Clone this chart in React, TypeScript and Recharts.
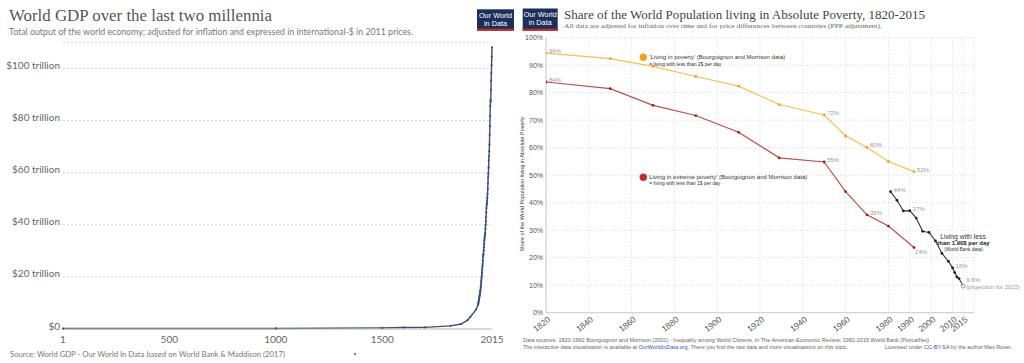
import React from 'react';
import { LineChart, Line, XAxis, YAxis, CartesianGrid, LabelList } from 'recharts';

// World GDP, trillions of international-$ (2011 prices)
const GDP_YEARS = [
  1, 1000, 1500, 1600, 1700, 1820, 1870, 1900, 1913, 1940,
  1950, 1951, 1952, 1953, 1954, 1955, 1956, 1957, 1958, 1959,
  1960, 1961, 1962, 1963, 1964, 1965, 1966, 1967, 1968, 1969,
  1970, 1971, 1972, 1973, 1974, 1975, 1976, 1977, 1978, 1979,
  1980, 1981, 1982, 1983, 1984, 1985, 1986, 1987, 1988, 1989,
  1990, 1991, 1992, 1993, 1994, 1995, 1996, 1997, 1998, 1999,
  2000, 2001, 2002, 2003, 2004, 2005, 2006, 2007, 2008, 2009,
  2010, 2011, 2012, 2013, 2014, 2015,
];
const GDP_VALUES = [
  0.18, 0.21, 0.43, 0.6, 0.64, 1.2, 1.9, 3.4, 4.6, 7.4,
  9.3, 9.9, 10.4, 10.9, 11.2, 11.9, 12.4, 12.9, 13.2, 13.9,
  14.6, 15.1, 15.9, 16.7, 17.8, 18.7, 19.7, 20.5, 21.6, 22.8,
  23.9, 24.9, 26.2, 27.8, 28.4, 28.7, 30.1, 31.4, 32.7, 33.9,
  34.7, 35.5, 35.9, 36.8, 38.5, 39.9, 41.3, 42.9, 44.8, 46.4,
  47.6, 48.3, 49.3, 50.3, 51.9, 53.8, 55.9, 58.1, 59.7, 61.9,
  64.7, 66.3, 68.2, 70.8, 74.5, 77.8, 81.6, 85.6, 87.9, 87.2,
  91.7, 95.3, 98.2, 101.2, 104.5, 108.1,
];
const GDP_X_TICKS = [1, 500, 1000, 1500, 2015];
const GDP_Y_TICKS = [0, 20, 40, 60, 80, 100];

// Share of world population in poverty, %
const BM_YEARS = [1820, 1850, 1870, 1890, 1910, 1929, 1950, 1960, 1970, 1980, 1992];
const POVERTY_2D = [94.4, 92.4, 89.6, 85.9, 82.4, 75.7, 71.9, 64.3, 60.1, 55.0, 51.3];
const POVERTY_2D_LABELS = ['94%', '', '', '', '', '', '72%', '', '60%', '', '52%'];
const POVERTY_1D = [83.9, 81.5, 75.4, 71.7, 65.6, 56.3, 54.8, 44.0, 35.6, 31.5, 23.7];
const POVERTY_1D_LABELS = ['84%', '', '', '', '', '', '55%', '', '35%', '', '24%'];
const WB_YEARS = [1981, 1984, 1987, 1990, 1993, 1996, 1999, 2002, 2005, 2008, 2010, 2011, 2012, 2013, 2015];
const WB_VALUES = [44.0, 40.9, 37.0, 37.1, 34.4, 29.6, 29.2, 26.1, 21.6, 18.7, 16.3, 14.6, 13.0, 12.4, 9.6];
const WB_LABELS = ['44%', '', '', '37%', '', '', '', '', '', '', '16%', '', '', '', '9.6%'];
const POV_X_TICKS = [1820, 1840, 1860, 1880, 1900, 1920, 1940, 1960, 1980, 1990, 2000, 2010, 2015];
const POV_Y_TICKS = [0, 10, 20, 30, 40, 50, 60, 70, 80, 90, 100];

const gdpRows = GDP_YEARS.map((year, i) => ({ year, gdp: GDP_VALUES[i] }));
const rows = (years: number[], vals: number[], labels: string[]) =>
  years.map((year, i) => ({ year, value: vals[i], label: labels[i] }));
const poorRows = rows(BM_YEARS, POVERTY_2D, POVERTY_2D_LABELS);
const extremeRows = rows(BM_YEARS, POVERTY_1D, POVERTY_1D_LABELS);
const wbRows = rows(WB_YEARS, WB_VALUES, WB_LABELS);

const LATO = 'Lato, sans-serif';
const SANS = '"Liberation Sans", Arial, sans-serif';
const SERIF = '"Liberation Serif", "Times New Roman", serif';

const GdpYTick = (p: any) => (
  <text x={p.x - 3} y={p.y + 0.5} textAnchor="end" fontSize={10} fill="#666" fontFamily={LATO}>
    {p.payload.value === 0 ? '$0' : `$${p.payload.value} trillion`}
  </text>
);
const GdpXTick = (p: any) => (
  <text x={p.x} y={p.y + 13.5} textAnchor="middle" fontSize={10} fill="#666" fontFamily={LATO}>
    {p.payload.value}
  </text>
);
const PovYTick = (p: any) => (
  <text x={p.x - 3} y={p.y + 2.5} textAnchor="end" fontSize={7} fill="#555" fontFamily={SANS}>
    {`${p.payload.value}%`}
  </text>
);
const PovXTick = (p: any) => (
  <text x={p.x + 5} y={p.y + 8} textAnchor="end" fontSize={8.5} fill="#555" fontFamily={SANS}
    transform={`rotate(-38 ${p.x + 5} ${p.y + 8})`}>
    {p.payload.value}
  </text>
);

// small nudges for a couple of point labels
const NUDGE: Record<string, [number, number]> = { '24%': [1, 6], '9.6%': [3, -4] };
const PointLabel = (p: any) => {
  if (!p.value) return null;
  const [dx, dy] = NUDGE[p.value] || [3, 0];
  return (
    <g>
      <text x={p.x + dx} y={p.y + dy} fontSize={6} fill="#999" fontFamily={SANS}>{p.value}</text>
      {p.value === '9.6%' && (
        <text x={p.x + 3} y={p.y + 3} fontSize={6} fill="#999" fontFamily={SANS}>(projection for 2015)</text>
      )}
    </g>
  );
};

const WbDot = (p: any) => {
  const last = p.index === WB_YEARS.length - 1;
  return last
    ? <circle key={p.index} cx={p.cx} cy={p.cy} r={1.8} fill="#fff" stroke="#777" strokeWidth={0.8} />
    : <circle key={p.index} cx={p.cx} cy={p.cy} r={1.4} fill="#222" />;
};

const Logo = ({ x, y, w, h }: { x: number; y: number; w: number; h: number }) => (
  <g>
    <rect x={x} y={y} width={w} height={h} fill="#1b2f5b" />
    <rect x={x} y={y + h - 2} width={w} height={2} fill="#d0281e" />
    <text x={x + w / 2} y={y + 8.5} fontSize={7.3} fill="#fff" textAnchor="middle" fontFamily={SANS}>Our World</text>
    <text x={x + w / 2} y={y + 16.5} fontSize={7.3} fill="#fff" textAnchor="middle" fontFamily={SANS}>in Data</text>
  </g>
);

export default function App() {
  return (
    <div style={{ position: 'absolute', left: 0, top: 0, width: 1024, height: 363, background: '#fff', overflow: 'hidden' }}>
      <div style={{ position: 'absolute', left: 0, top: 0 }}>
        <LineChart width={505} height={363} data={gdpRows} margin={{ top: 42.3, right: 13, bottom: 14, left: 0 }}>
          <CartesianGrid vertical={false} stroke="#d6d6d6" strokeDasharray="2 2" />
          <XAxis type="number" dataKey="year" domain={[1, 2015]} ticks={GDP_X_TICKS} interval={0} height={20}
            tickLine={false} tickSize={0} tickMargin={0} axisLine={{ stroke: '#bbb' }} tick={<GdpXTick />} />
          <YAxis type="number" domain={[0, 110]} ticks={GDP_Y_TICKS} width={63} axisLine={false}
            tickLine={false} tickSize={0} tickMargin={0} tick={<GdpYTick />} />
          <Line dataKey="gdp" stroke="#3a506f" strokeWidth={1.4} isAnimationActive={false}
            dot={{ r: 1.1, fill: '#3a506f', stroke: 'none' }} />
        </LineChart>
      </div>
      <div style={{ position: 'absolute', left: 505, top: 0 }}>
        <LineChart width={519} height={363} margin={{ top: 37.7, right: 50, bottom: 20.3, left: 0 }}>
          <CartesianGrid stroke="#d8d8d8" strokeDasharray="1 2" />
          <XAxis type="number" dataKey="year" domain={[1820, 2020]} ticks={POV_X_TICKS} interval={0} height={30}
            tickLine={false} tickSize={0} tickMargin={0} axisLine={{ stroke: '#ccc' }} tick={<PovXTick />} allowDataOverflow />
          <YAxis type="number" domain={[0, 100]} ticks={POV_Y_TICKS} interval={0} width={41}
            tickLine={false} tickSize={0} tickMargin={0} axisLine={{ stroke: '#ccc' }} tick={<PovYTick />} />
          <Line data={poorRows} dataKey="value" stroke="#f9bd55" strokeWidth={1.2} isAnimationActive={false}
            dot={{ r: 1.4, fill: '#f0a02a', stroke: 'none' }}>
            <LabelList dataKey="label" content={<PointLabel />} />
          </Line>
          <Line data={extremeRows} dataKey="value" stroke="#b8514c" strokeWidth={1.2} isAnimationActive={false}
            dot={{ r: 1.4, fill: '#9c2020', stroke: 'none' }}>
            <LabelList dataKey="label" content={<PointLabel />} />
          </Line>
          <Line data={wbRows} dataKey="value" stroke="#333" strokeWidth={1.1} isAnimationActive={false} dot={<WbDot />}>
            <LabelList dataKey="label" content={<PointLabel />} />
          </Line>
        </LineChart>
      </div>
      <svg width={1024} height={363} style={{ position: 'absolute', left: 0, top: 0, pointerEvents: 'none' }}>
        {/* left chart texts */}
        <text x={9} y={20.7} fontSize={17} fill="#555" fontFamily={SERIF} textLength={263} lengthAdjust="spacingAndGlyphs">
          World GDP over the last two millennia
        </text>
        <text x={9} y={35} fontSize={9.5} fill="#777" fontFamily={LATO} textLength={404} lengthAdjust="spacingAndGlyphs">
          Total output of the world economy; adjusted for inflation and expressed in international-$ in 2011 prices.
        </text>
        <text x={10} y={357} fontSize={8} fill="#777" fontFamily={LATO} textLength={275} lengthAdjust="spacingAndGlyphs">
          Source: World GDP - Our World In Data based on World Bank &amp; Maddison (2017)
        </text>
        <circle cx={355} cy={354} r={1} fill="#555" />
        <Logo x={477} y={9.3} w={37} h={21.4} />
        <Logo x={522.7} y={8.5} w={35} h={22.2} />
        {/* right chart texts */}
        <text x={564} y={18.5} fontSize={13} fill="#444" fontFamily={SERIF} textLength={361} lengthAdjust="spacingAndGlyphs">
          Share of the World Population living in Absolute Poverty, 1820-2015
        </text>
        <text x={564} y={27.5} fontSize={7} fill="#666" fontFamily={SERIF} textLength={318} lengthAdjust="spacingAndGlyphs">
          All data are adjusted for inflation over time and for price differences between countries (PPP adjustment).
        </text>
        <text transform="translate(524 184) rotate(-90)" textAnchor="middle" fontSize={5.5} fill="#444" fontFamily={SANS}
          textLength={135} lengthAdjust="spacingAndGlyphs">
          Share of the World Population living in Absolute Poverty
        </text>
        <circle cx={643.3} cy={57.3} r={3.7} fill="#f5a01a" />
        <text x={649.3} y={59.3} fontSize={6} fill="#333" fontFamily={SANS} textLength={136} lengthAdjust="spacingAndGlyphs">
          'Living in poverty' (Bourguignon and Morrison data)
        </text>
        <text x={649.3} y={66.3} fontSize={4.6} fill="#333" fontFamily={SANS} textLength={72} lengthAdjust="spacingAndGlyphs">
          = living with less than 2$ per day
        </text>
        <circle cx={643.3} cy={177.3} r={3.7} fill="#c92a2a" />
        <text x={649.3} y={179.3} fontSize={6} fill="#333" fontFamily={SANS} textLength={158} lengthAdjust="spacingAndGlyphs">
          Living in extreme poverty' (Bourguignon and Morrison data)
        </text>
        <text x={649.3} y={185.3} fontSize={4.6} fill="#333" fontFamily={SANS} textLength={71} lengthAdjust="spacingAndGlyphs">
          = living with less than 1$ per day
        </text>
        <text x={963} y={238.5} fontSize={6.8} fill="#333" textAnchor="middle" fontFamily={SANS}>Living with less</text>
        <text x={963.5} y={245} fontSize={6} fill="#222" fontWeight="bold" textAnchor="middle" fontFamily={SANS}>than 1.90$ per day</text>
        <text x={963.5} y={251.3} fontSize={4.8} fill="#333" textAnchor="middle" fontFamily={SANS}>(World Bank data)</text>
        <text x={523} y={341.8} fontSize={5.5} fill="#666" fontFamily={SANS} textLength={406} lengthAdjust="spacingAndGlyphs">
          Data sources: 1820-1992 Bourguignon and Morrison (2002) - Inequality among World Citizens, In The American Economic Review; 1981-2015 World Bank (PovcalNet)
        </text>
        <text x={523} y={348.5} fontSize={5} fill="#666" fontFamily={SANS} textLength={325} lengthAdjust="spacingAndGlyphs">
          The interactive data visualisation is available at <tspan fill="#3a4fc0">OurWorldInData.org</tspan>. There you find the raw data and more visualisations on this topic.
        </text>
        <text x={885} y={348.5} fontSize={5} fill="#666" fontFamily={SANS} textLength={127} lengthAdjust="spacingAndGlyphs">
          Licensed under <tspan fill="#3a4fc0">CC-BY-SA</tspan> by the author Max Roser.
        </text>
      </svg>
    </div>
  );
}
